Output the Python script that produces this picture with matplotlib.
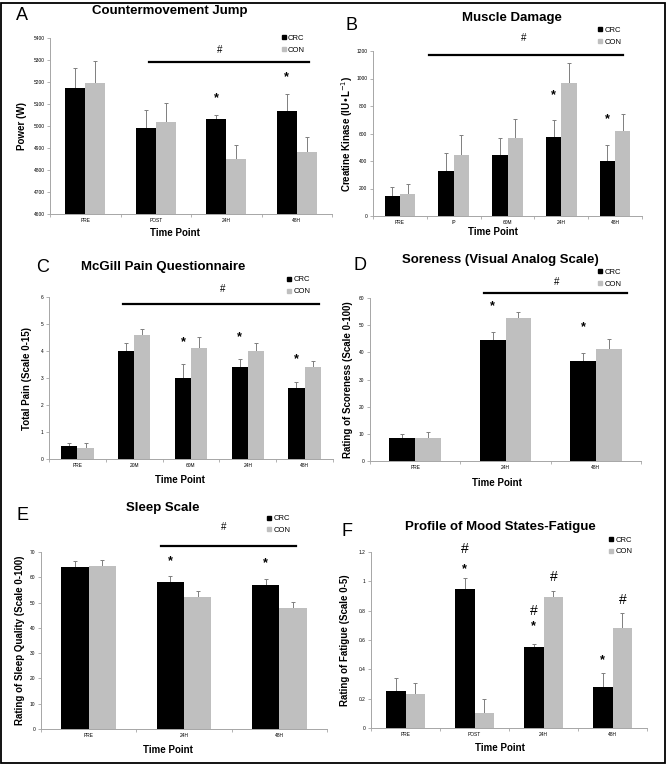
import numpy as np
import matplotlib as mpl
mpl.use('Agg')
import matplotlib.pyplot as plt
from matplotlib.lines import Line2D
from matplotlib.patches import Rectangle

plt.rcParams['font.family'] = ['Liberation Sans', 'DejaVu Sans']

W, H = 667, 765

# A - countermovement jump
cmj_time = ['PRE', 'POST', '24H', '48H']
cmj_crc = [5175, 4990, 5033, 5068]
cmj_crc_err = [90, 83, 17, 77]
cmj_con = [5194, 5020, 4850, 4882]
cmj_con_err = [100, 83, 62, 66]
cmj_star = [2, 3]

# B - creatine kinase
ck_time = ['PRE', 'IP', '60M', '24H', '48H']
ck_crc = [146, 329, 444, 576, 400]
ck_crc_err = [66, 127, 124, 122, 120]
ck_con = [159, 444, 566, 969, 615]
ck_con_err = [75, 144, 142, 141, 129]
ck_star = [3, 4]

# C - McGill pain
pain_time = ['PRE', '20M', '60M', '24H', '48H']
pain_crc = [0.49, 4.01, 3.01, 3.41, 2.62]
pain_crc_err = [0.11, 0.30, 0.50, 0.30, 0.25]
pain_con = [0.40, 4.61, 4.12, 4.00, 3.42]
pain_con_err = [0.20, 0.22, 0.40, 0.30, 0.21]
pain_star = [2, 3, 4]

# D - soreness VAS
sore_time = ['PRE', '24H', '48H']
sore_crc = [8.4, 44.4, 36.7]
sore_crc_err = [1.5, 3.1, 2.9]
sore_con = [8.5, 52.6, 41.3]
sore_con_err = [2.1, 2.3, 3.6]
sore_star = [1, 2]

# E - sleep
sleep_time = ['PRE', '24H', '48H']
sleep_crc = [64.1, 58.2, 56.9]
sleep_crc_err = [2.2, 2.2, 2.6]
sleep_con = [64.5, 52.4, 47.8]
sleep_con_err = [2.3, 2.1, 2.3]
sleep_star = [1, 2]

# F - POMS fatigue
fat_time = ['PRE', 'POST', '24H', '48H']
fat_crc = [0.251, 0.95, 0.552, 0.279]
fat_crc_err = [0.09, 0.07, 0.02, 0.093]
fat_con = [0.23, 0.105, 0.895, 0.685]
fat_con_err = [0.08, 0.09, 0.04, 0.098]

BLACK = '#000000'
GRAY = '#bfbfbf'
AX = '#a6a6a6'


def px(x0, y0, x1, y1):
    return [x0 / W, 1 - y1 / H, (x1 - x0) / W, (y1 - y0) / H]


def panel(rect, cats, crc, crc_e, con, con_e, ylim, yticks, yfmt,
          ylabel, ylab_x, stars, star_off, hline, hashpos, leg):
    ax = fig.add_axes(px(*rect))
    x = np.arange(len(cats))
    w = 0.286
    ax.bar(x - w / 2, crc, w, color=BLACK, zorder=2)
    ax.bar(x + w / 2, con, w, color=GRAY, zorder=2)
    ax.errorbar(x - w / 2, crc, yerr=[np.zeros(len(x)), crc_e], fmt='none',
                ecolor='#7f7f7f', elinewidth=0.7, capsize=1.2, capthick=0.7, zorder=1)
    ax.errorbar(x + w / 2, con, yerr=[np.zeros(len(x)), con_e], fmt='none',
                ecolor='#7f7f7f', elinewidth=0.7, capsize=1.2, capthick=0.7, zorder=1)
    ax.set_xlim(-0.5, len(cats) - 0.5)
    ax.set_ylim(*ylim)
    ax.set_yticks(yticks)
    ax.set_yticklabels([yfmt(v) for v in yticks])
    ax.set_xticks(x)
    ax.set_xticklabels(cats)
    ax.set_xticks(np.arange(len(cats) + 1) - 0.5, minor=True)
    ax.tick_params(axis='x', which='major', length=0, labelsize=3.5, pad=3)
    ax.tick_params(axis='x', which='minor', length=2, color=AX, width=0.6)
    ax.tick_params(axis='y', length=2, color=AX, width=0.6, labelsize=3.5, pad=2)
    for s in ['top', 'right']:
        ax.spines[s].set_visible(False)
    for s in ['left', 'bottom']:
        ax.spines[s].set_color(AX)
        ax.spines[s].set_linewidth(0.7)
    # y label placed in figure pixels
    yc = (rect[1] + rect[3]) / 2
    fig.text(ylab_x / W, 1 - yc / H, ylabel, rotation=90, ha='center',
             va='center', fontsize=7, fontweight='bold')
    for i in stars:
        ax.annotate('*', (x[i] - w / 2, crc[i] + crc_e[i]), xytext=(0, star_off),
                    textcoords='offset pixels', ha='center', va='center',
                    fontsize=9, fontweight='bold')
    if hline is not None:
        ax.plot([hline[0], hline[1]], [hline[2], hline[2]], color='black', lw=1.6,
                transform=ax.transAxes, clip_on=False)
        ax.text(hashpos[0], hashpos[1], '#', transform=ax.transAxes,
                ha='center', va='center', fontsize=7)
    handles = [Line2D([], [], marker='s', ls='none', color=BLACK, markersize=3),
               Line2D([], [], marker='s', ls='none', color=GRAY, markersize=3)]
    ax.legend(handles, ['CRC', 'CON'], loc='upper left', bbox_to_anchor=leg,
              frameon=False, fontsize=5.5, handlelength=0.6, handletextpad=0.3,
              labelspacing=0.6, borderpad=0, borderaxespad=0)
    return ax


fig = plt.figure(figsize=(W / 100, H / 100), dpi=100)

# A
panel((50, 38, 332, 214), cmj_time, cmj_crc, cmj_crc_err, cmj_con, cmj_con_err,
      (4600, 5400), np.arange(4600, 5401, 100), lambda v: '%d' % v,
      'Power (W)', 22, cmj_star, 17, (0.35, 0.92, 0.864), (0.60, 0.93), (0.82, 1.02))
fig.text(170 / W, 1 - 11 / H, 'Countermovement Jump', ha='center', va='center',
         fontsize=9.5, fontweight='bold')
fig.text(22 / W, 1 - 16 / H, 'A', ha='center', va='center', fontsize=13)
fig.text(175 / W, 1 - 233 / H, 'Time Point', ha='center', va='center',
         fontsize=7, fontweight='bold')

# B
panel((373, 51, 642, 216), ck_time, ck_crc, ck_crc_err, ck_con, ck_con_err,
      (0, 1200), np.arange(0, 1201, 200), lambda v: '%d' % v,
      'Creatine Kinase (IU\u2022L$^{-1}$)', 347, ck_star, 25,
      (0.21, 0.93, 0.976), (0.56, 1.08), (0.835, 1.15))
fig.text(512 / W, 1 - 18 / H, 'Muscle Damage', ha='center', va='center',
         fontsize=9.5, fontweight='bold')
fig.text(351 / W, 1 - 25 / H, 'B', ha='center', va='center', fontsize=13)
fig.text(493 / W, 1 - 232 / H, 'Time Point', ha='center', va='center',
         fontsize=7, fontweight='bold')

# C
panel((49, 297, 333, 459), pain_time, pain_crc, pain_crc_err, pain_con, pain_con_err,
      (0, 6), np.arange(0, 7, 1), lambda v: '%d' % v,
      'Total Pain (Scale 0-15)', 27, pain_star, 22,
      (0.26, 0.95, 0.957), (0.61, 1.05), (0.836, 1.13))
fig.text(163 / W, 1 - 267 / H, 'McGill Pain Questionnaire', ha='center', va='center',
         fontsize=9.5, fontweight='bold')
fig.text(43 / W, 1 - 268 / H, 'C', ha='center', va='center', fontsize=13)
fig.text(180 / W, 1 - 480 / H, 'Time Point', ha='center', va='center',
         fontsize=7, fontweight='bold')

# D
panel((370, 298, 641, 461), sore_time, sore_crc, sore_crc_err, sore_con, sore_con_err,
      (0, 60), np.arange(0, 61, 10), lambda v: '%d' % v,
      'Rating of Scoreness (Scale 0-100)', 348, sore_star, 26,
      (0.42, 0.95, 1.03), (0.69, 1.10), (0.84, 1.18))
fig.text(500 / W, 1 - 260 / H, 'Soreness (Visual Analog Scale)', ha='center',
         va='center', fontsize=9.5, fontweight='bold')
fig.text(360 / W, 1 - 265 / H, 'D', ha='center', va='center', fontsize=13)
fig.text(497 / W, 1 - 483 / H, 'Time Point', ha='center', va='center',
         fontsize=7, fontweight='bold')

# E
panel((41, 552, 327, 729), sleep_time, sleep_crc, sleep_crc_err, sleep_con, sleep_con_err,
      (0, 70), np.arange(0, 71, 10), lambda v: '%d' % v,
      'Rating of Sleep Quality (Scale 0-100)', 20, sleep_star, 15,
      (0.42, 0.89, 1.034), (0.64, 1.14), (0.79, 1.21))
fig.text(163 / W, 1 - 508 / H, 'Sleep Scale', ha='center', va='center',
         fontsize=9.5, fontweight='bold')
fig.text(22 / W, 1 - 516 / H, 'E', ha='center', va='center', fontsize=13)
fig.text(168 / W, 1 - 750 / H, 'Time Point', ha='center', va='center',
         fontsize=7, fontweight='bold')

# F
axf = panel((371, 552, 647, 728), fat_time, fat_crc, fat_crc_err, fat_con, fat_con_err,
            (0, 1.2), np.arange(0, 1.21, 0.2), lambda v: ('%.1f' % v).rstrip('0').rstrip('.') if v else '0',
            'Rating of Fatigue (Scale 0-5)', 345, [], 0, None, None, (0.86, 1.09))
xf = np.arange(len(fat_time))
wf = 0.286
# (bar index, group, symbol, offset px)
f_marks = [(1, 'crc', '#', 29), (1, 'crc', '*', 9), (2, 'crc', '#', 33), (2, 'crc', '*', 18),
           (3, 'crc', '*', 13), (2, 'con', '#', 14), (3, 'con', '#', 13)]
for i, g, sym, off in f_marks:
    if g == 'crc':
        xx, yy = xf[i] - wf / 2, fat_crc[i] + fat_crc_err[i]
    else:
        xx, yy = xf[i] + wf / 2, fat_con[i] + fat_con_err[i]
    fs = 9 if sym == '*' else 10
    fw = 'bold' if sym == '*' else 'normal'
    axf.annotate(sym, (xx, yy), xytext=(0, off), textcoords='offset pixels',
                 ha='center', va='center', fontsize=fs, fontweight=fw,
                 annotation_clip=False)
fig.text(500 / W, 1 - 527 / H, 'Profile of Mood States-Fatigue', ha='center',
         va='center', fontsize=9.5, fontweight='bold')
fig.text(347 / W, 1 - 532 / H, 'F', ha='center', va='center', fontsize=13)
fig.text(500 / W, 1 - 748 / H, 'Time Point', ha='center', va='center',
         fontsize=7, fontweight='bold')

# outer frame
fig.patches.append(Rectangle((1.5 / W, 2.5 / H), 663 / W, 760 / H, transform=fig.transFigure,
                             fill=False, edgecolor='black', lw=1.3))

plt.savefig('out.png', dpi=100)
